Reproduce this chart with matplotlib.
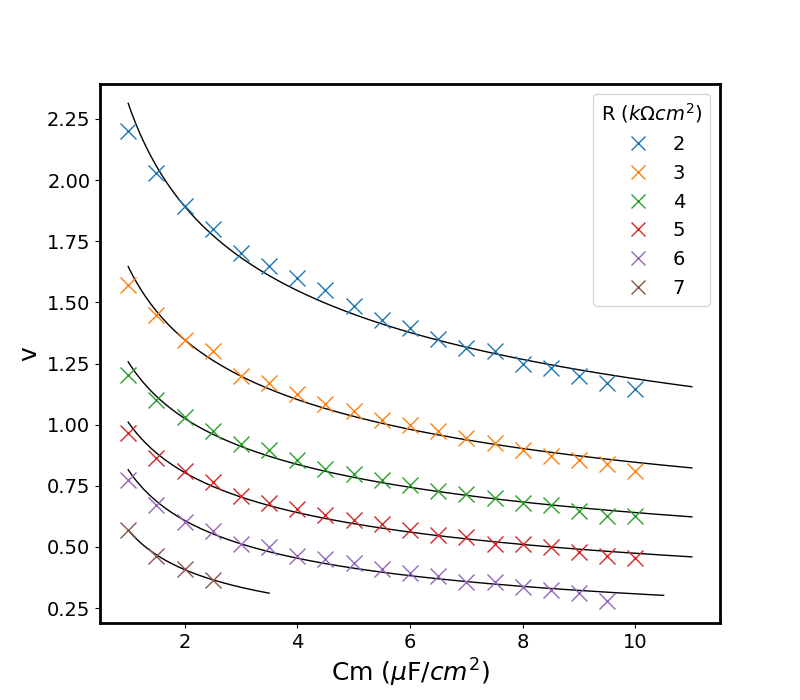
import numpy as np
import matplotlib
matplotlib.use('Agg')
import matplotlib.pyplot as plt

# measured conduction velocity v against membrane capacitance, one series per R
cm_full = np.arange(1.0, 10.01, 0.5)
cm_purple = np.arange(1.0, 9.51, 0.5)
cm_brown = np.array([1.0, 1.5, 2.0, 2.5])

v_r2 = [2.20, 2.03, 1.895, 1.80, 1.70, 1.65, 1.60, 1.55, 1.485, 1.43,
        1.395, 1.35, 1.315, 1.30, 1.25, 1.23, 1.20, 1.17, 1.145]
v_r3 = [1.57, 1.45, 1.345, 1.30, 1.20, 1.17, 1.125, 1.085, 1.055, 1.02,
        1.00, 0.975, 0.945, 0.925, 0.895, 0.87, 0.855, 0.84, 0.81]
v_r4 = [1.205, 1.10, 1.03, 0.975, 0.92, 0.895, 0.855, 0.82, 0.80, 0.775,
        0.755, 0.73, 0.715, 0.70, 0.68, 0.67, 0.645, 0.625, 0.625]
v_r5 = [0.965, 0.865, 0.81, 0.765, 0.71, 0.68, 0.655, 0.63, 0.61, 0.595,
        0.57, 0.55, 0.54, 0.51, 0.51, 0.50, 0.48, 0.465, 0.455]
v_r6 = [0.775, 0.67, 0.60, 0.565, 0.51, 0.50, 0.465, 0.45, 0.435, 0.41,
        0.395, 0.38, 0.355, 0.355, 0.335, 0.325, 0.31, 0.28]
v_r7 = [0.57, 0.465, 0.41, 0.365]

R_vals = [2, 3, 4, 5, 6, 7]
series = [(cm_full, v_r2, 11.0), (cm_full, v_r3, 11.0), (cm_full, v_r4, 11.0),
          (cm_full, v_r5, 11.0), (cm_purple, v_r6, 10.5), (cm_brown, v_r7, 3.5)]

fig, ax = plt.subplots(figsize=(8, 7), dpi=100)

for R, (x, v, xmax) in zip(R_vals, series):
    x = np.asarray(x); v = np.asarray(v)
    # power-law fit v = a * Cm^b
    b, loga = np.polyfit(np.log(x), np.log(v), 1)
    xf = np.linspace(1.0, xmax, 200)
    ax.plot(xf, np.exp(loga) * xf**b, color='black', lw=1)
    ax.plot(x, v, 'x', ms=12, mew=1.0, label=str(R))

ax.set_ylim(0.189, 2.393)
ax.set_xlabel(r'Cm ($\mu$F/$cm^2$)', fontsize=18)
ax.set_ylabel('v', fontsize=18)
ax.tick_params(labelsize=14)
for s in ax.spines.values():
    s.set_linewidth(2)
ax.legend(title=r'R ($k\Omega cm^2$)', fontsize=14, title_fontsize=14,
          loc='upper right', markerscale=0.85)

plt.savefig('out.png', dpi=100)
